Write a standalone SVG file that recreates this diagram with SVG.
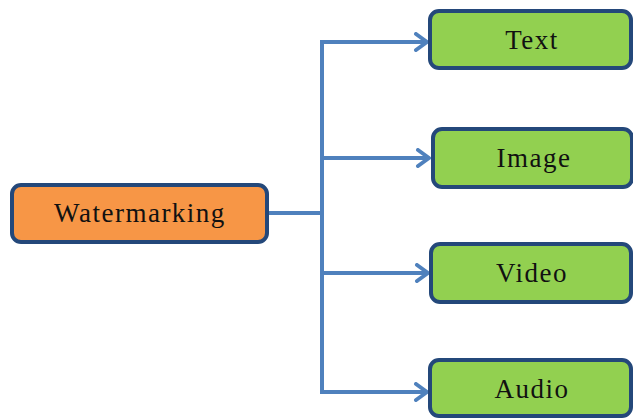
<svg xmlns="http://www.w3.org/2000/svg" width="633" height="419" viewBox="0 0 633 419">
<style>
.box{stroke:#24487a;stroke-width:4}
.or{fill:#f79646}
.gr{fill:#92d050}
.lbl{font-family:"Liberation Serif","Times New Roman",serif;font-size:27px;letter-spacing:1.5px;fill:#111;text-anchor:middle}
.ln{fill:none;stroke:#4f81bd;stroke-width:4}
</style>
<defs>
<marker id="arr" markerUnits="userSpaceOnUse" markerWidth="20" markerHeight="20" refX="14" refY="10" orient="auto">
<polyline points="3,2 14,10 3,18" fill="none" stroke="#4f81bd" stroke-width="4" stroke-linecap="round" stroke-linejoin="round"/>
</marker>
</defs>
<g id="connectors">
<path class="ln" d="M268,213 H322"/>
<path class="ln" d="M322,40 V392"/>
<path class="ln" d="M320,42 H427" marker-end="url(#arr)"/>
<path class="ln" d="M322,158 H429" marker-end="url(#arr)"/>
<path class="ln" d="M322,273 H428" marker-end="url(#arr)"/>
<path class="ln" d="M320,392 H427" marker-end="url(#arr)"/>
</g>
<g id="watermarking">
<rect class="box or" x="12" y="185" width="255" height="57" rx="9"/>
<text class="lbl" x="140" y="222">Watermarking</text>
</g>
<g id="text">
<rect class="box gr" x="430" y="11" width="201" height="57" rx="9"/>
<text class="lbl" x="532" y="49">Text</text>
</g>
<g id="image">
<rect class="box gr" x="433" y="129" width="199" height="58" rx="9"/>
<text class="lbl" x="534" y="167">Image</text>
</g>
<g id="video">
<rect class="box gr" x="431" y="244" width="200" height="58" rx="9"/>
<text class="lbl" x="532" y="282">Video</text>
</g>
<g id="audio">
<rect class="box gr" x="430" y="360" width="201" height="56" rx="9"/>
<text class="lbl" x="532" y="398">Audio</text>
</g>
</svg>
